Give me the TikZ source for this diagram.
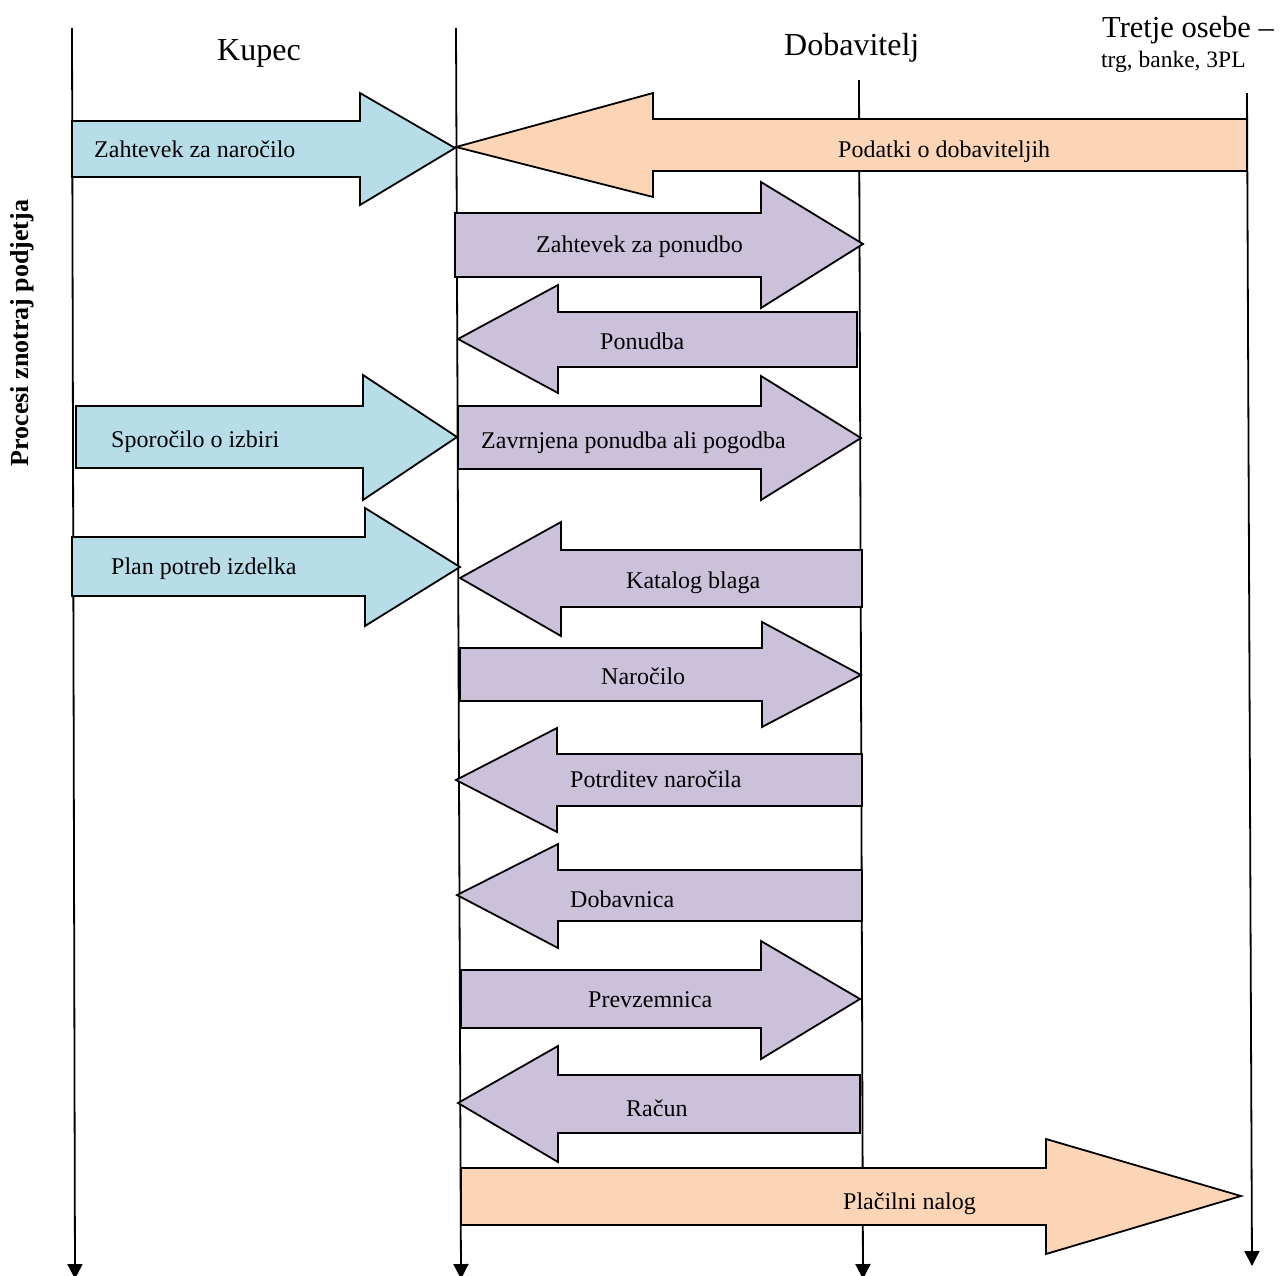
\documentclass[tikz,border=0pt]{standalone}
\usepackage{fontspec}
\setmainfont{Liberation Serif}
\usetikzlibrary{arrows.meta}
\definecolor{kblue}{HTML}{B7DDE8}
\definecolor{korange}{HTML}{FBD5B5}
\definecolor{kpurple}{HTML}{CCC1DA}
\begin{document}
\begin{tikzpicture}[x=1pt,y=-1pt,
  flow/.style={draw=black,line width=1.8pt,line join=miter},
  lane/.style={line width=1.8pt,-{Triangle[length=15pt,width=15pt]}},
  lbl/.style={anchor=base west,inner sep=0pt,font=\fontsize{24}{28}\selectfont},
  head/.style={anchor=base west,inner sep=0pt,font=\fontsize{32}{38}\selectfont}]
\useasboundingbox (0,0) rectangle (1280,1275);

% swim lanes
\coordinate (k0) at (72,28);    \coordinate (k1) at (75,1279);
\coordinate (d0) at (456,28);   \coordinate (d1) at (461,1279);
\coordinate (s0) at (859,80);   \coordinate (s1) at (863,1279);
\coordinate (t0) at (1247,93);  \coordinate (t1) at (1252,1266);
\draw[lane] (k0) -- (k1);
\draw[lane] (d0) -- (d1);
\draw[lane] (s0) -- (s1);
\draw[lane] (t0) -- (t1);

% lane titles
\node[head] (kupec) at (217,60) {Kupec};
\node[head] (dob) at (784,55) {Dobavitelj};
\node[head,font=\fontsize{30.5}{36}\selectfont] (tretje) at (1102,37) {Tretje osebe –};
\node[lbl,font=\fontsize{23.5}{28}\selectfont] (trg) at (1101,67) {trg, banke, 3PL};
\node[rotate=90,inner sep=0pt,font=\bfseries\fontsize{26}{30}\selectfont] (proc) at (22,333) {Procesi znotraj podjetja};

% message arrows
\draw[flow,fill=kblue] (72,121) -- (360,121) -- (360,93) -- (455,148) -- (360,205) -- (360,177) -- (72,177) -- cycle;
\node[lbl] (m1) at (94,157) {Zahtevek za naročilo};

\draw[flow,fill=korange] (456,147) -- (653,93) -- (653,119) -- (1247,119) -- (1247,171) -- (653,171) -- (653,197) -- cycle;
\node[lbl] (m2) at (838,157) {Podatki o dobaviteljih};

\draw[flow,fill=kpurple] (455,213) -- (761,213) -- (761,182) -- (863,244) -- (761,308) -- (761,277) -- (455,277) -- cycle;
\node[lbl] (m3) at (536,252) {Zahtevek za ponudbo};

\draw[flow,fill=kpurple] (458,339) -- (558,285) -- (558,312) -- (857,312) -- (857,367) -- (558,367) -- (558,393) -- cycle;
\node[lbl] (m4) at (600,349) {Ponudba};

\draw[flow,fill=kblue] (76,406) -- (363,406) -- (363,375) -- (457,437) -- (363,500) -- (363,468) -- (76,468) -- cycle;
\node[lbl] (m5) at (111,447) {Sporočilo o izbiri};

\draw[flow,fill=kpurple] (458,406) -- (761,406) -- (761,376) -- (861,438) -- (761,500) -- (761,469) -- (458,469) -- cycle;
\node[lbl] (m6) at (481,448) {Zavrnjena ponudba ali pogodba};

\draw[flow,fill=kblue] (72,537) -- (365,537) -- (365,508) -- (460,567) -- (365,626) -- (365,596) -- (72,596) -- cycle;
\node[lbl] (m7) at (111,574) {Plan potreb izdelka};

\draw[flow,fill=kpurple] (460,578) -- (561,522) -- (561,550) -- (862,550) -- (862,607) -- (561,607) -- (561,636) -- cycle;
\node[lbl] (m8) at (626,588) {Katalog blaga};

\draw[flow,fill=kpurple] (460,648) -- (762,648) -- (762,622) -- (861,675) -- (762,727) -- (762,701) -- (460,701) -- cycle;
\node[lbl] (m9) at (601,684) {Naročilo};

\draw[flow,fill=kpurple] (456,780) -- (557,728) -- (557,754) -- (862,754) -- (862,806) -- (557,806) -- (557,832) -- cycle;
\node[lbl] (m10) at (570,787) {Potrditev naročila};

\draw[flow,fill=kpurple] (457,895) -- (558,844) -- (558,870) -- (862,870) -- (862,921) -- (558,921) -- (558,948) -- cycle;
\node[lbl] (m11) at (570,907) {Dobavnica};

\draw[flow,fill=kpurple] (461,970) -- (761,970) -- (761,941) -- (860,999) -- (761,1059) -- (761,1028) -- (461,1028) -- cycle;
\node[lbl] (m12) at (588,1007) {Prevzemnica};

\draw[flow,fill=kpurple] (458,1103) -- (558,1046) -- (558,1075) -- (860,1075) -- (860,1133) -- (558,1133) -- (558,1162) -- cycle;
\node[lbl] (m13) at (626,1116) {Račun};

\draw[flow,fill=korange] (461,1168) -- (1046,1168) -- (1046,1139) -- (1241,1196) -- (1046,1254) -- (1046,1225) -- (461,1225) -- cycle;
\node[lbl] (m14) at (843,1209) {Plačilni nalog};
\end{tikzpicture}
\end{document}
